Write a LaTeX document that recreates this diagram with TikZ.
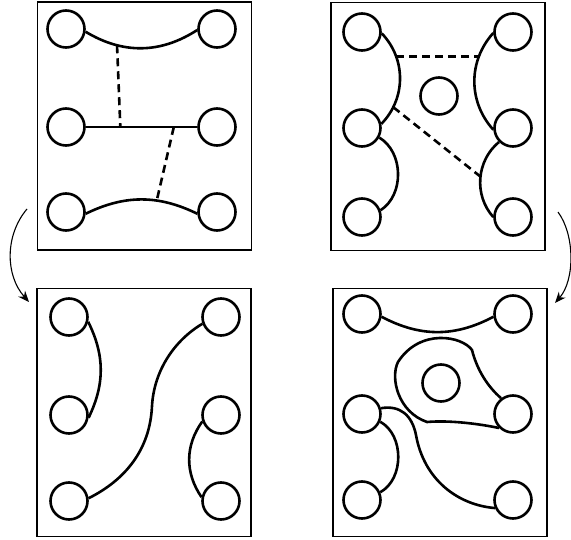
\documentclass[tikz,border=0pt]{standalone}
\usetikzlibrary{arrows.meta}
\begin{document}
\begin{tikzpicture}[x=1pt,y=-1pt,
  disc/.style={circle,draw,line width=2.6pt,minimum size=37pt,inner sep=0pt},
  panel/.style={rectangle,draw,line width=1.1pt,minimum width=214pt,minimum height=248pt,inner sep=0pt},
  link/.style={line width=2.6pt},
  tie/.style={line width=2.6pt,dash pattern=on 8pt off 5pt},
  flow/.style={line width=1.1pt,-{Stealth[length=11pt,width=9pt]}}]
\useasboundingbox (0,0) rectangle (571,540);
% panels
\node[panel] (P1) at (144.5,126) {};
\node[panel] (P2) at (438,126.5) {};
\node[panel] (P3) at (144,412.5) {};
\node[panel] (P4) at (440,412.5) {};
% top-left circles
\node[disc] (p1) at (66,29) {};
\node[disc] (p2) at (217,29) {};
\node[disc] (p3) at (66,127) {};
\node[disc] (p4) at (217,127) {};
\node[disc] (p5) at (66,212) {};
\node[disc] (p6) at (217,212) {};
% top-right circles
\node[disc] (q1) at (362,32) {};
\node[disc] (q2) at (513,32) {};
\node[disc] (q3) at (362,128) {};
\node[disc] (q4) at (513,128) {};
\node[disc] (q5) at (362,217) {};
\node[disc] (q6) at (513,217) {};
\node[disc] (qc) at (439,96) {};
% bottom-left circles
\node[disc] (r1) at (69,317) {};
\node[disc] (r2) at (221,317) {};
\node[disc] (r3) at (69,415) {};
\node[disc] (r4) at (221,415) {};
\node[disc] (r5) at (69,501) {};
\node[disc] (r6) at (221,501) {};
% bottom-right circles
\node[disc] (s1) at (362,314) {};
\node[disc] (s2) at (513,314) {};
\node[disc] (s3) at (362,414) {};
\node[disc] (s4) at (513,414) {};
\node[disc] (s5) at (362,500) {};
\node[disc] (s6) at (513,500) {};
\node[disc] (sc) at (441,383) {};
% top-left links
\draw[link] (p1.-8) to[bend right=32] coordinate[pos=0.28] (t1) (p2.183);
\draw[link] (p3.east) -- coordinate[pos=0.31] (t2) coordinate[pos=0.79] (t3) (p4.west);
\draw[link] (p5.-5) to[bend left=26] coordinate[pos=0.64] (t4) (p6.185);
\draw[tie] (t1) -- (t2);
\draw[tie] (t3) -- (t4);
% top-right links
\draw[link] (q1.-4) to[bend left=44] coordinate[pos=0.27] (u1) coordinate[pos=0.8] (u2) (q3.12);
\draw[link] (q3.-29) to[bend left=58] (q5.20);
\draw[link] (q2.183) to[bend right=42] coordinate[pos=0.26] (u3) (q4.185);
\draw[link] (q4.225) to[bend right=46] coordinate[pos=0.48] (u4) (q6.180);
\draw[tie] (u1) -- (u1 -| u3);
\draw[tie] (u2) -- (u4);
% bottom-left links
\draw[link] (r1.-14) to[bend left=26] (r3.-8);
\draw[link] (r5.8) .. controls (125,480) and (150,450) .. (152,406) .. controls (154,370) and (175,340) .. (r2.200);
\draw[link] (r4.199) to[bend right=35] (r6.169);
% bottom-right links
\draw[link] (s1.-8) to[bend right=28] (s2.188);
\draw[link] (s3.-23) to[bend left=61] (s5.23);
\draw[link] (s3.17) .. controls (400,405) and (412,415) .. (416,435) .. controls (424,480) and (458,505) .. (s6.204);
\draw[link] (s4.127) .. controls (488,387) and (477,370) .. (472,350) .. controls (462,336) and (420,328) .. (398,362) .. controls (390,378) and (398,412) .. (427,422) .. controls (450,420) and (480,424) .. (s4.225);
% arrows between panels
\coordinate (la) at (27,209);
\coordinate (lb) at (29,302);
\coordinate (ra) at (558,212);
\coordinate (rb) at (555,303);
\draw[flow] (la) .. controls (5,235) and (5,275) .. (lb);
\draw[flow] (ra) .. controls (575,235) and (575,280) .. (rb);
\end{tikzpicture}
\end{document}
